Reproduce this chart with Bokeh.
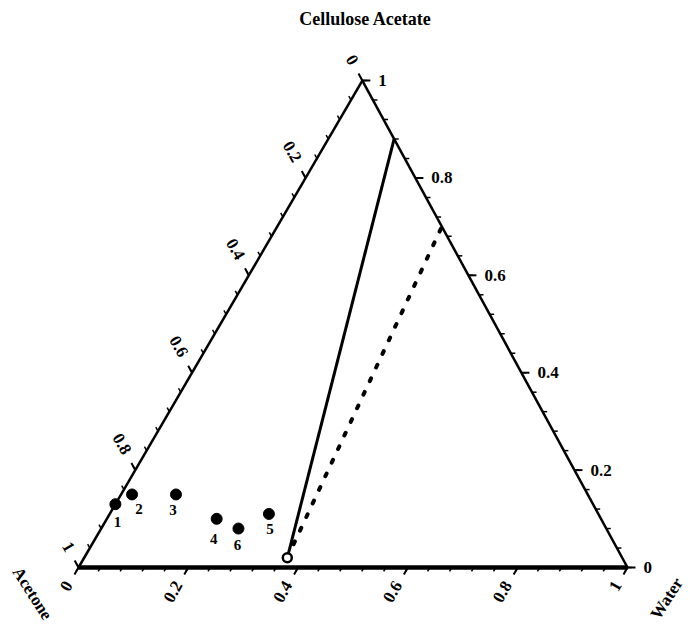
import math
from bokeh.plotting import figure
from bokeh.models import ColumnDataSource, Label
from bokeh.embed import file_html
from bokeh.resources import INLINE
from bokeh.core.properties import value

# ---- data -------------------------------------------------------------
title_text = "Cellulose Acetate"
corner_names = ["Acetone", "Water"]

# Numbered samples: mass fractions of acetone, water, cellulose acetate
sample_ids = ["1", "2", "3", "4", "5", "6"]
acetone = [0.87, 0.83, 0.75, 0.70, 0.60, 0.67]
water = [0.00, 0.02, 0.10, 0.20, 0.29, 0.25]
cellulose = [0.13, 0.15, 0.15, 0.10, 0.11, 0.08]

# Solid boundary line (water, cellulose acetate fractions at both ends)
solid_water = [0.37, 0.12]
solid_ca = [0.02, 0.88]
# Dotted boundary line
dotted_water = [0.37, 0.30]
dotted_ca = [0.02, 0.70]
# Open marker where both lines meet the base
open_water = [0.37]
open_ca = [0.02]

tick_values = [0.0, 0.2, 0.4, 0.6, 0.8, 1.0]
tick_labels = ["0", "0.2", "0.4", "0.6", "0.8", "1"]
minor_values = [round(i * 0.04, 2) for i in range(26)]

# ---- geometry ---------------------------------------------------------
PX = 549.0                      # pixels per data unit
CX, CY = 0.517, 0.887           # apex (cellulose acetate corner)


def to_xy(w, c):
    """Ternary (water, cellulose acetate) -> cartesian; acetone at origin."""
    return w + c * CX, c * CY


def norm(dx, dy):
    L = math.hypot(dx, dy)
    return dx / L, dy / L


FONT = value("Liberation Serif")

p = figure(width=690, height=624, output_backend="svg", toolbar_location=None,
           x_range=(-78 / PX, 612 / PX), y_range=(-57 / PX, 567 / PX),
           x_axis_type=None, y_axis_type=None, min_border=0,
           background_fill_color="white", border_fill_color="white")
p.outline_line_color = None
p.grid.visible = False

# ---- triangle frame ---------------------------------------------------
ax, ay = to_xy(0, 0)
wx, wy = to_xy(1, 0)
cx, cy = to_xy(0, 1)
p.line([ax, cx], [ay, cy], line_color="black", line_width=2.5)
p.line([wx, cx], [wy, cy], line_color="black", line_width=2.5)
p.line([ax, wx], [ay, wy], line_color="black", line_width=4.5)

# ---- ticks ------------------------------------------------------------
left_dir = norm(CX - 1, CY)       # up-left, parallel to the right edge
right_dir = (1.0, 0.0)            # horizontal, to the right
bottom_dir = norm(-CX, -CY)       # down-left, parallel to the left edge


def edge_points(vals, edge):
    pts = []
    for v in vals:
        if edge == "left":      # acetone fraction v
            pts.append(to_xy(0, 1 - v))
        elif edge == "right":   # cellulose acetate fraction v
            pts.append(to_xy(1 - v, v))
        else:                   # water fraction v
            pts.append(to_xy(v, 0))
    return pts


for edge, d in (("left", left_dir), ("right", right_dir), ("bottom", bottom_dir)):
    for vals, length, lw in ((minor_values, 4.5, 1.5), (tick_values, 8.0, 2.0)):
        pts = edge_points(vals, edge)
        x0 = [q[0] for q in pts]
        y0 = [q[1] for q in pts]
        x1 = [q[0] + d[0] * length / PX for q in pts]
        y1 = [q[1] + d[1] * length / PX for q in pts]
        p.segment(x0, y0, x1, y1, line_color="black", line_width=lw)

# tick labels
label_style = dict(text_font=FONT, text_font_style="bold", text_font_size="17px",
                   text_color="black", text_baseline="middle")

pts = edge_points(tick_values, "left")
p.text([q[0] for q in pts], [q[1] for q in pts], text=tick_labels,
       angle=-math.pi / 3, text_align="right", x_offset=-8, y_offset=-17, **label_style)

pts = edge_points(tick_values, "right")
p.text([q[0] for q in pts], [q[1] for q in pts], text=tick_labels,
       angle=0, text_align="left", x_offset=16, y_offset=0, **label_style)

pts = edge_points(tick_values, "bottom")
p.text([q[0] for q in pts], [q[1] for q in pts], text=tick_labels,
       angle=math.pi / 3, text_align="right", x_offset=-10, y_offset=15, **label_style)

# corner names
p.text([ax], [ay], text=[corner_names[0]], angle=-1.0, text_align="center",
       x_offset=-46, y_offset=26, **label_style)
p.text([wx], [wy], text=[corner_names[1]], angle=1.0, text_align="left",
       x_offset=27, y_offset=50, **label_style)

# title
p.add_layout(Label(x=365, y=624 - 18, x_units="screen", y_units="screen",
                   text=title_text, text_align="center", text_baseline="middle",
                   text_font="Liberation Serif", text_font_style="bold",
                   text_font_size="18px", text_color="black"))

# ---- boundary lines ---------------------------------------------------
sx, sy = zip(*[to_xy(w, c) for w, c in zip(solid_water, solid_ca)])
p.line(list(sx), list(sy), line_color="black", line_width=3)

dx, dy = zip(*[to_xy(w, c) for w, c in zip(dotted_water, dotted_ca)])
p.line(list(dx), list(dy), line_color="black", line_width=4,
       line_dash="3 12", line_cap="round")

ox, oy = zip(*[to_xy(w, c) for w, c in zip(open_water, open_ca)])
p.scatter(list(ox), list(oy), size=9, marker="circle", fill_color="white",
          line_color="black", line_width=2.5)

# ---- samples ----------------------------------------------------------
pxs, pys = zip(*[to_xy(w, c) for w, c in zip(water, cellulose)])
src = ColumnDataSource(dict(x=list(pxs), y=list(pys), label=sample_ids,
                            dx=[2, 7, -3, -3, 1, -1], dy=[18, 15, 16, 20, 15, 16]))
p.scatter("x", "y", source=src, size=11, marker="circle",
          fill_color="black", line_color="black")
p.text("x", "y", text="label", source=src, x_offset="dx", y_offset="dy",
       text_font=FONT, text_font_style="bold", text_font_size="15px",
       text_color="black", text_align="center", text_baseline="middle")

open("out.html", "w").write(file_html(p, INLINE))
